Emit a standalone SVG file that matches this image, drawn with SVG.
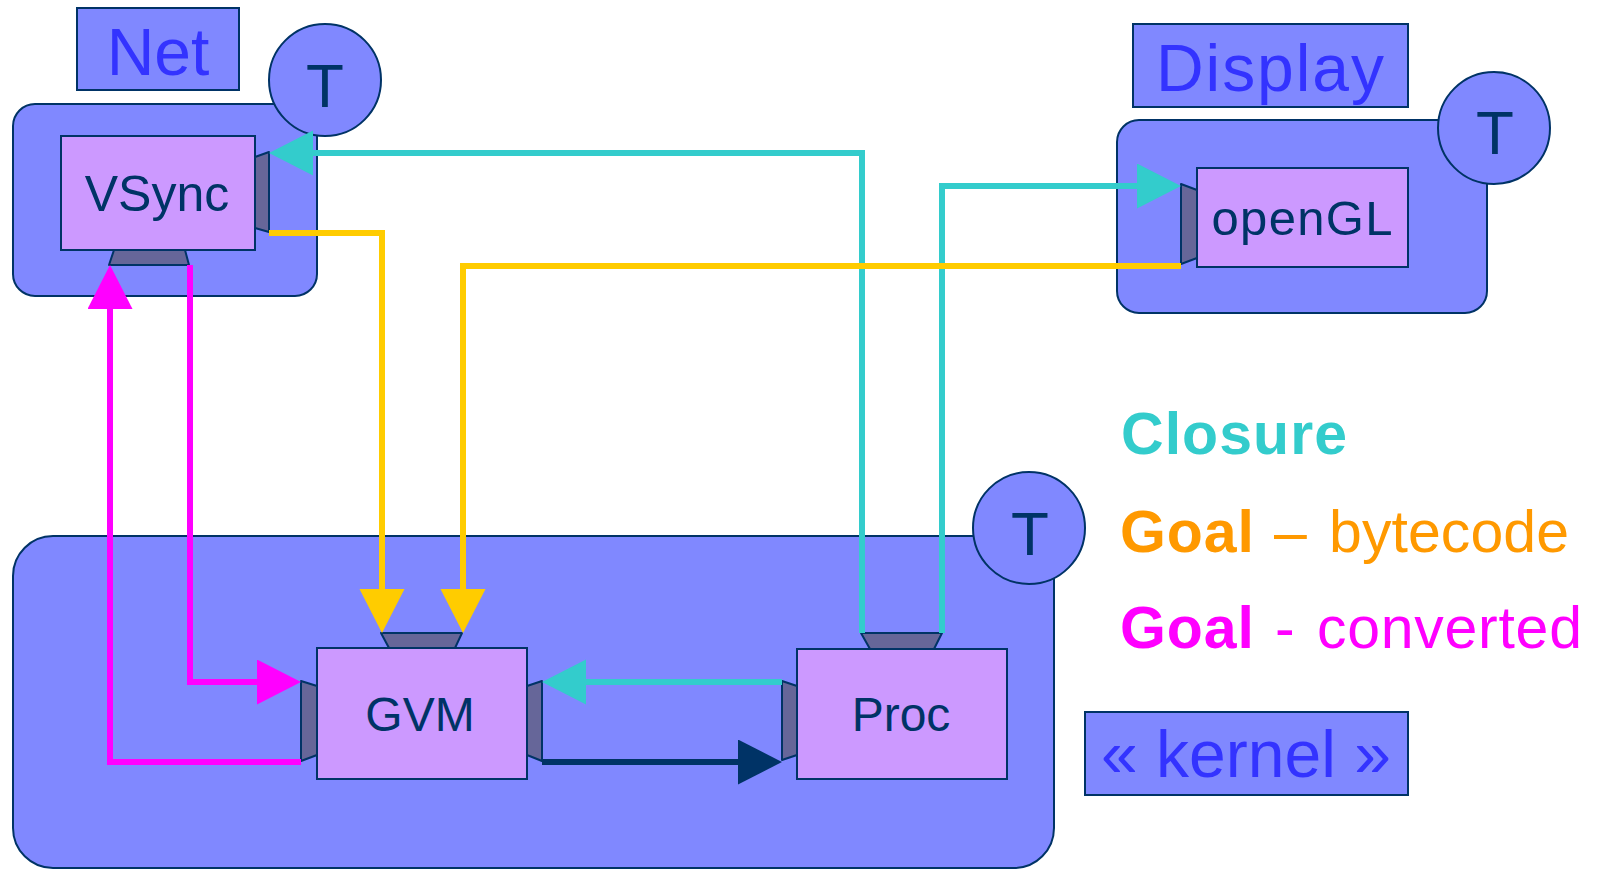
<svg xmlns="http://www.w3.org/2000/svg" width="1602" height="869" viewBox="0 0 1602 869">
<style>
.cont{fill:#8088FF;stroke:#003366;stroke-width:2}
.lbl{fill:#8088FF;stroke:#003366;stroke-width:2}
.lbltxt{fill:#3333FF;font-family:"Liberation Sans",Arial,sans-serif;font-size:66px;text-anchor:middle}
.circ{fill:#8088FF;stroke:#003366;stroke-width:2}
.ttxt{fill:#003366;font-family:"Liberation Sans",Arial,sans-serif;font-size:62px;text-anchor:middle}
.node{fill:#CC99FF;stroke:#003366;stroke-width:2}
.ntxt{fill:#003366;font-family:"Liberation Sans",Arial,sans-serif;text-anchor:middle}
.port{fill:#666699;stroke:#003366;stroke-width:2;stroke-linejoin:round}
.c{fill:none;stroke-width:6}
.leg{font-family:"Liberation Sans",Arial,sans-serif;font-size:59px}
</style>
<defs>
<marker id="aC" markerUnits="userSpaceOnUse" markerWidth="44" markerHeight="46" refX="0" refY="22.5" orient="auto"><path d="M0,0 L44,22.5 L0,45 Z" fill="#33CCCC"/></marker>
<marker id="aY" markerUnits="userSpaceOnUse" markerWidth="44" markerHeight="46" refX="0" refY="22.5" orient="auto"><path d="M0,0 L44,22.5 L0,45 Z" fill="#FFCC00"/></marker>
<marker id="aM" markerUnits="userSpaceOnUse" markerWidth="44" markerHeight="46" refX="0" refY="22.5" orient="auto"><path d="M0,0 L44,22.5 L0,45 Z" fill="#FF00FF"/></marker>
<marker id="aN" markerUnits="userSpaceOnUse" markerWidth="44" markerHeight="46" refX="0" refY="22.5" orient="auto"><path d="M0,0 L44,22.5 L0,45 Z" fill="#003366"/></marker>
</defs>

<g id="net">
<rect class="lbl" x="77" y="8" width="162" height="82"/>
<text class="lbltxt" x="158" y="75">Net</text>
<rect class="cont" x="13" y="104" width="304" height="192" rx="22" ry="22"/>
<circle class="circ" cx="325" cy="80" r="56"/>
<text class="ttxt" x="325" y="107">T</text>
</g>

<g id="display">
<rect class="lbl" x="1133" y="24" width="275" height="83"/>
<text class="lbltxt" x="1270" y="91" textLength="228">Display</text>
<rect class="cont" x="1117" y="120" width="370" height="193" rx="22" ry="22"/>
<circle class="circ" cx="1494" cy="128" r="56"/>
<text class="ttxt" x="1495" y="154">T</text>
</g>

<g id="kernel">
<rect class="cont" x="13" y="536" width="1041" height="332" rx="40" ry="40"/>
<circle class="circ" cx="1029" cy="528" r="56"/>
<text class="ttxt" x="1030" y="555">T</text>
</g>

<g id="kernel-label">
<rect class="lbl" x="1085" y="712" width="323" height="83"/>
<text class="lbltxt" x="1246" y="777">« kernel »</text>
</g>

<g id="vsync">
<rect class="node" x="61" y="136" width="194" height="114"/>
<text class="ntxt" x="157" y="211" font-size="50">VSync</text>
<polygon class="port" points="255,157 269,152 269,232 255,228"/>
<polygon class="port" points="114,250 185,250 189,265 109,265"/>
</g>

<g id="opengl">
<rect class="node" x="1197" y="168" width="211" height="99"/>
<text class="ntxt" x="1302" y="235" font-size="49" textLength="181">openGL</text>
<polygon class="port" points="1181,184 1197,190 1197,258 1181,264"/>
</g>

<g id="gvm">
<rect class="node" x="317" y="648" width="210" height="131"/>
<text class="ntxt" x="420" y="731" font-size="48">GVM</text>
<polygon class="port" points="381,633 462,633 455,648 389,648"/>
<polygon class="port" points="301,681 317,686 317,755 301,761"/>
<polygon class="port" points="527,686 542,681 542,761 527,755"/>
</g>

<g id="proc">
<rect class="node" x="797" y="649" width="210" height="130"/>
<text class="ntxt" x="901" y="731" font-size="48">Proc</text>
<polygon class="port" points="861,633 942,633 934,649 870,649"/>
<polygon class="port" points="782,681 797,686 797,755 782,760"/>
</g>

<g id="connectors">
<path class="c" stroke="#33CCCC" d="M862,633 V153 H313" marker-end="url(#aC)"/>
<path class="c" stroke="#33CCCC" d="M942,633 V186 H1137" marker-end="url(#aC)"/>
<path class="c" stroke="#33CCCC" d="M782,682 H586" marker-end="url(#aC)"/>
<path class="c" stroke="#FFCC00" d="M269,233 H382 V589" marker-end="url(#aY)"/>
<path class="c" stroke="#FFCC00" d="M1181,266 H463 V589" marker-end="url(#aY)"/>
<path class="c" stroke="#FF00FF" d="M190,265 V682 H257" marker-end="url(#aM)"/>
<path class="c" stroke="#FF00FF" d="M301,762 H110 V309" marker-end="url(#aM)"/>
<path class="c" stroke="#003366" stroke-width="7" d="M542,762 H738" marker-end="url(#aN)"/>
</g>

<g id="legend">
<text class="leg" x="1121" y="454" font-weight="bold" fill="#33CCCC" textLength="226">Closure</text>
<text class="leg" y="552" fill="#FF9900"><tspan x="1120" font-weight="bold" textLength="134">Goal</tspan><tspan x="1274">–</tspan><tspan x="1329" textLength="240">bytecode</tspan></text>
<text class="leg" y="648" fill="#FF00FF"><tspan x="1120" font-weight="bold" textLength="134">Goal</tspan><tspan x="1275">-</tspan><tspan x="1317" textLength="265">converted</tspan></text>
</g>
</svg>
